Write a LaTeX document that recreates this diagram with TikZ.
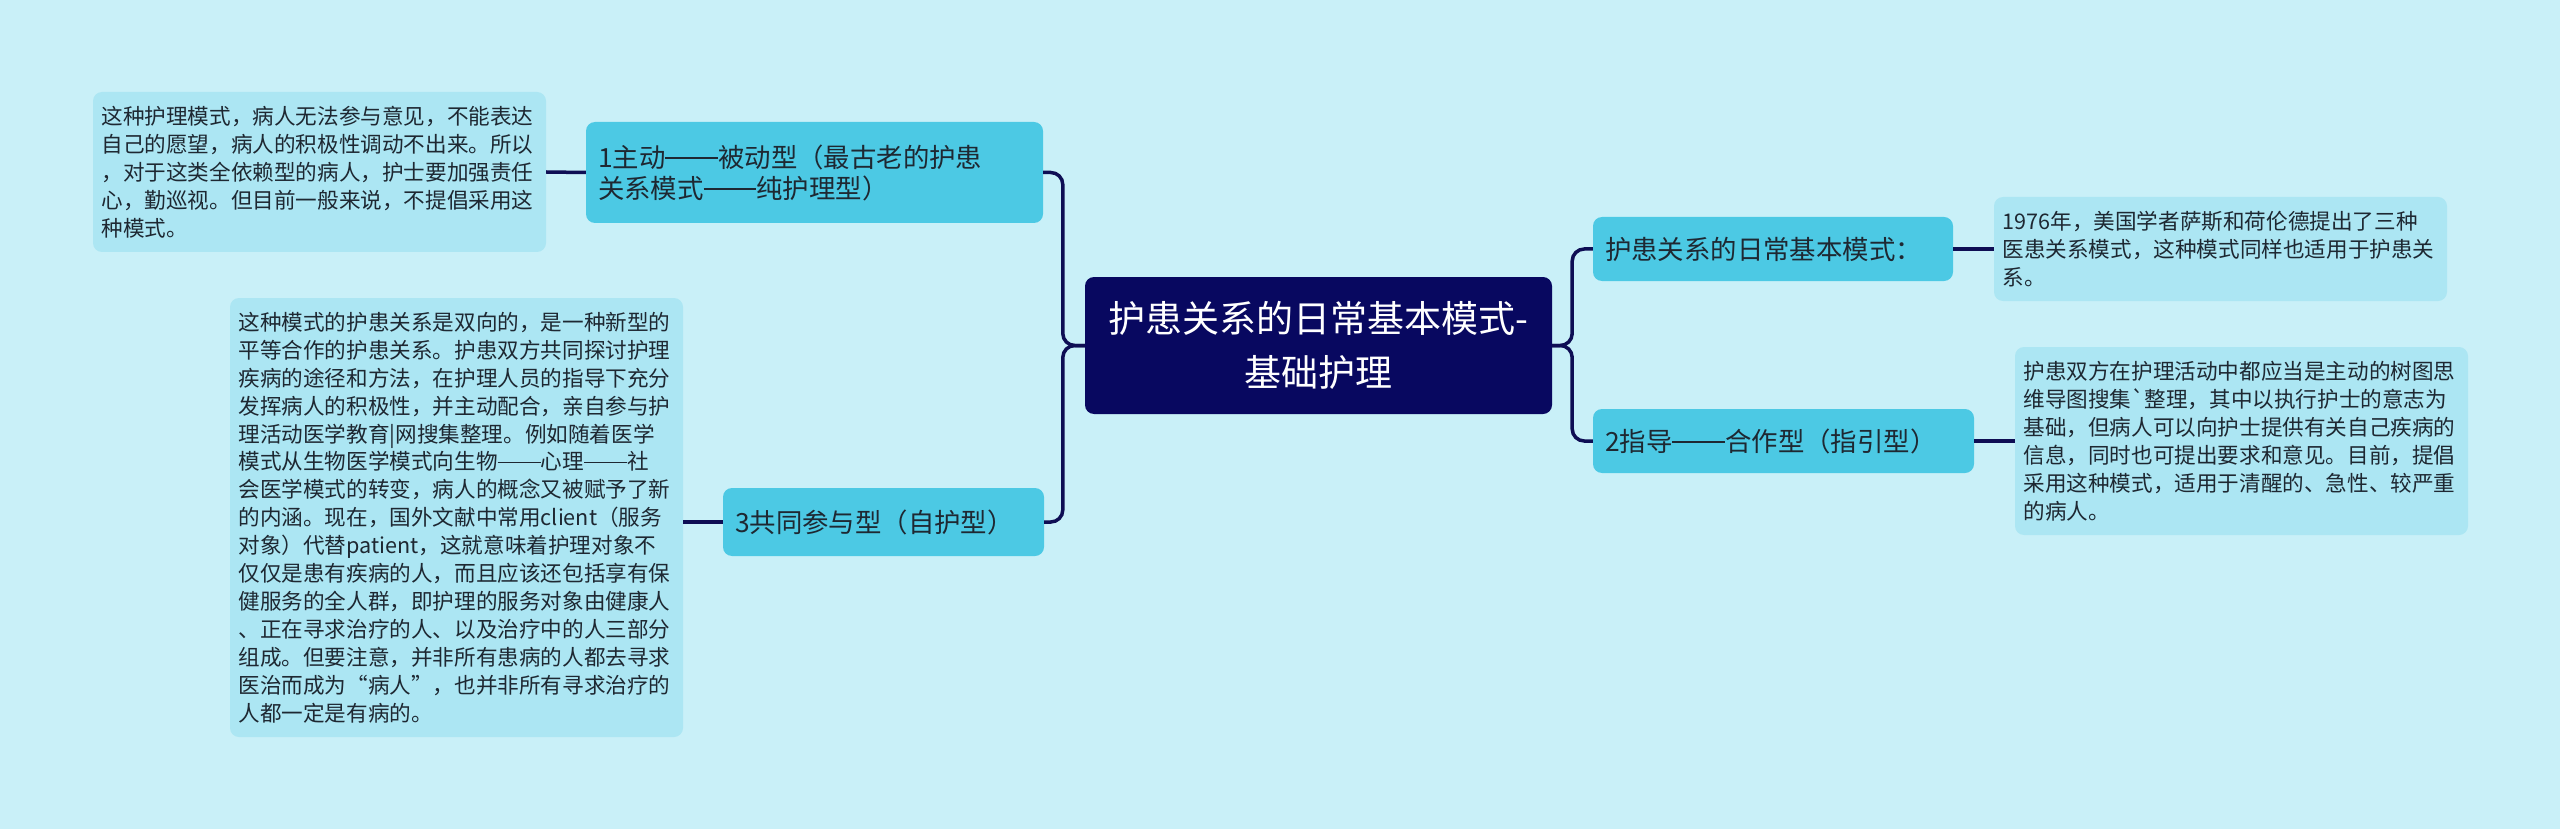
\documentclass[tikz,border=0pt]{standalone}
\usepackage{fontspec}
\setmainfont{Noto Sans CJK SC}
\newcommand\fdash{\rule[0.31em]{2em}{0.065em}}
\newcommand\bquote{{\addfontfeature{Ligatures=TeXOff}\symbol{"60}}}
\definecolor{bgc}{RGB}{201,240,248}
\definecolor{lvone}{RGB}{76,201,228}
\definecolor{leafc}{RGB}{172,230,243}
\definecolor{rootc}{RGB}{8,8,96}
\definecolor{linec}{RGB}{14,14,84}
\definecolor{txtc}{RGB}{30,40,50}
\tikzset{
  rootbox/.style={fill=rootc, rounded corners=9pt, text=white, align=center, inner sep=0pt,
    font=\fontsize{37pt}{54pt}\selectfont},
  lvbox/.style={fill=lvone, rounded corners=9pt, text=txtc, align=left, inner sep=0pt,
    font=\fontsize{26.4pt}{31pt}\selectfont},
  leafbox/.style={fill=leafc, rounded corners=9pt, text=txtc, align=left, inner sep=0pt,
    text width=436pt, minimum width=453pt, font=\fontsize{21.6pt}{27.9pt}\selectfont},
  conn/.style={draw=linec, line width=3.5pt}
}
\begin{document}
\begin{tikzpicture}[x=1pt,y=-1pt]
\fill[bgc] (0,0) rectangle (2560,829);
\useasboundingbox (0,0) rectangle (2560,829);

\node[rootbox, minimum width=467pt, minimum height=137pt] (c) at (1318.5,345.5)
  {护患关系的日常基本模式-\\基础护理};

\node[lvbox, minimum width=457pt, minimum height=101pt, text width=433pt] (n1) at (814.5,172.5)
  {1主动\fdash 被动型（最古老的护患\\关系模式\fdash 纯护理型）};
\node[lvbox, minimum width=321pt, minimum height=68pt, text width=297pt] (n3) at (883.5,522)
  {3共同参与型（自护型）};
\node[lvbox, minimum width=360pt, minimum height=64pt, text width=336pt] (r1) at (1773,249)
  {护患关系的日常基本模式：};
\node[lvbox, minimum width=381pt, minimum height=64pt, text width=357pt] (r2) at (1783.5,441)
  {2指导\fdash 合作型（指引型）};

\node[leafbox, minimum height=160pt] (l1) at (319.5,172)
  {这种护理模式，病人无法参与意见，不能表达\\
   自己的愿望，病人的积极性调动不出来。所以\\
   ，对于这类全依赖型的病人，护士要加强责任\\
   心，勤巡视。但目前一般来说，不提倡采用这\\
   种模式。};

\node[leafbox, minimum height=439pt] (l3) at (456.5,517.5)
  {这种模式的护患关系是双向的，是一种新型的\\
   平等合作的护患关系。护患双方共同探讨护理\\
   疾病的途径和方法，在护理人员的指导下充分\\
   发挥病人的积极性，并主动配合，亲自参与护\\
   理活动医学教育|网搜集整理。例如随着医学\\
   模式从生物医学模式向生物\fdash 心理\fdash 社\\
   会医学模式的转变，病人的概念又被赋予了新\\
   的内涵。现在，国外文献中常用client（服务\\
   对象）代替patient，这就意味着护理对象不\\
   仅仅是患有疾病的人，而且应该还包括享有保\\
   健服务的全人群，即护理的服务对象由健康人\\
   、正在寻求治疗的人、以及治疗中的人三部分\\
   组成。但要注意，并非所有患病的人都去寻求\\
   医治而成为“病人”，也并非所有寻求治疗的\\
   人都一定是有病的。};

\node[leafbox, minimum height=104pt] (lr1) at (2220.5,249)
  {1976年，美国学者萨斯和荷伦德提出了三种\\
   医患关系模式，这种模式同样也适用于护患关\\
   系。};

\node[leafbox, minimum height=188pt] (lr2) at (2241.5,441)
  {护患双方在护理活动中都应当是主动的树图思\\
   维导图搜集\bquote 整理，其中以执行护士的意志为\\
   基础，但病人可以向护士提供有关自己疾病的\\
   信息，同时也可提出要求和意见。目前，提倡\\
   采用这种模式，适用于清醒的、急性、较严重\\
   的病人。};

\draw[conn, rounded corners=12pt] (c.west) -- ++(-22,0) |- (n1.east);
\draw[conn, rounded corners=12pt] (c.west) -- ++(-22,0) |- (n3.east);
\draw[conn, rounded corners=12pt] (c.east) -- ++(20,0) |- (r1.west);
\draw[conn, rounded corners=12pt] (c.east) -- ++(20,0) |- (r2.west);

\draw[conn] (n1.west) -- (l1.east);
\draw[conn] (n3.west) -- (n3.west -| l3.east);
\draw[conn] (r1.east) -- (lr1.west);
\draw[conn] (r2.east) -- (lr2.west);
\end{tikzpicture}
\end{document}
